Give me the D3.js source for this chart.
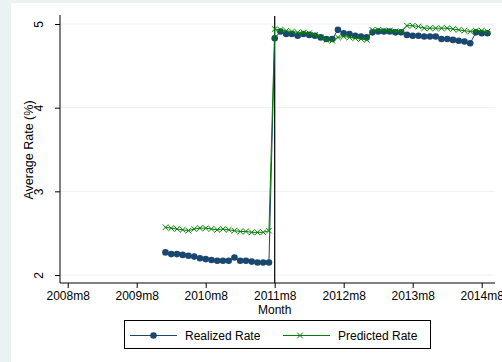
<!DOCTYPE html>
<html lang="en">
<head>
<meta charset="UTF-8">
<title>Average Rate</title>
<script src="https://cdnjs.cloudflare.com/ajax/libs/d3/7.8.5/d3.min.js"></script>
<style>
  body { margin: 0; }
  svg { display: block; font-family: "Liberation Sans", Arial, sans-serif; }
</style>
</head>
<body>
<div id="chart"></div>
<script>
// months, 2010m1 .. 2014m9
const months = [
  "2010m1","2010m2","2010m3","2010m4","2010m5","2010m6","2010m7","2010m8","2010m9","2010m10","2010m11","2010m12",
  "2011m1","2011m2","2011m3","2011m4","2011m5","2011m6","2011m7","2011m8","2011m9","2011m10","2011m11","2011m12",
  "2012m1","2012m2","2012m3","2012m4","2012m5","2012m6","2012m7","2012m8","2012m9","2012m10","2012m11","2012m12",
  "2013m1","2013m2","2013m3","2013m4","2013m5","2013m6","2013m7","2013m8","2013m9","2013m10","2013m11","2013m12",
  "2014m1","2014m2","2014m3","2014m4","2014m5","2014m6","2014m7","2014m8","2014m9"
];

const realized = [
  2.27, 2.25, 2.25, 2.24, 2.23, 2.22, 2.20, 2.19, 2.18, 2.17, 2.17, 2.17,
  2.21, 2.17, 2.17, 2.16, 2.15, 2.15, 2.15, 4.83, 4.91, 4.88, 4.88, 4.86,
  4.88, 4.87, 4.86, 4.84, 4.82, 4.82, 4.93, 4.89, 4.88, 4.86, 4.85, 4.84,
  4.90, 4.91, 4.91, 4.91, 4.90, 4.90, 4.87, 4.86, 4.86, 4.85, 4.85, 4.85,
  4.82, 4.82, 4.81, 4.80, 4.79, 4.77, 4.90, 4.89, 4.89
];

const predicted = [
  2.57, 2.56, 2.55, 2.54, 2.53, 2.55, 2.56, 2.56, 2.55, 2.54, 2.55, 2.54,
  2.53, 2.52, 2.52, 2.51, 2.51, 2.51, 2.53, 4.94, 4.93, 4.92, 4.91, 4.90,
  4.90, 4.89, 4.87, 4.84, 4.81, 4.80, 4.84, 4.85, 4.84, 4.83, 4.82, 4.81,
  4.93, 4.93, 4.92, 4.92, 4.91, 4.91, 4.98, 4.98, 4.97, 4.95, 4.95, 4.95,
  4.95, 4.95, 4.94, 4.93, 4.92, 4.91, 4.92, 4.92, 4.91
];

const xTickLabels = ["2008m8","2009m8","2010m8","2011m8","2012m8","2013m8","2014m8"];
const yTicks = [2, 3, 4, 5];
const breakMonth = "2011m8";

// month string -> months since 2008m8
function monthIndex(s) {
  const p = s.split("m");
  return (+p[0] - 2008) * 12 + (+p[1] - 8);
}

const navy = "#1a476f";
const green = "#008000";

const svg = d3.select("#chart").append("svg")
  .attr("width", 502)
  .attr("height", 362);

// graph region
svg.append("rect").attr("width", 502).attr("height", 362).attr("fill", "#eaf2f3");
svg.append("rect").attr("x", 11).attr("y", 3).attr("width", 491).attr("height", 359).attr("fill", "#fff");

const x = d3.scaleLinear().domain([0, 72]).range([67.7, 481.7]);
const y = d3.scaleLinear().domain([2, 5]).range([275, 24]);

const axisY = 283, axisX = 60;

// gridlines
svg.append("g").selectAll("line")
  .data(yTicks)
  .join("line")
  .attr("x1", axisX).attr("x2", 495)
  .attr("y1", d => y(d)).attr("y2", d => y(d))
  .attr("stroke", "#eaf2f3")
  .attr("stroke-width", 1);

// x axis
const gx = svg.append("g")
  .attr("transform", `translate(0,${axisY})`)
  .call(d3.axisBottom(x)
    .tickValues(xTickLabels.map(monthIndex))
    .tickFormat((d, i) => xTickLabels[i])
    .tickSize(5)
    .tickSizeOuter(0));
gx.attr("font-family", null).attr("font-size", 12);
gx.select(".domain").remove();
gx.selectAll("text").attr("fill", "#000");
gx.append("line").attr("x1", axisX).attr("x2", 495).attr("stroke", "#000");

// y axis
const gy = svg.append("g")
  .attr("transform", `translate(${axisX},0)`)
  .call(d3.axisLeft(y).tickValues(yTicks).tickSize(5).tickSizeOuter(0));
gy.attr("font-family", null).attr("font-size", 12);
gy.select(".domain").remove();
gy.selectAll("text").remove();
gy.selectAll(".tick").append("text")
  .attr("transform", "translate(-17,0) rotate(-90)")
  .attr("text-anchor", "middle")
  .attr("fill", "#000")
  .text(d => d);
gy.append("line").attr("y1", 15).attr("y2", axisY).attr("stroke", "#000");

// axis titles
svg.append("text")
  .attr("x", x(monthIndex("2011m8")))
  .attr("y", 314)
  .attr("text-anchor", "middle")
  .attr("font-size", 12)
  .text("Month");

svg.append("text")
  .attr("transform", "translate(33,150) rotate(-90)")
  .attr("text-anchor", "middle")
  .attr("font-size", 12.5)
  .text("Average Rate (%)");

// break line
svg.append("line")
  .attr("x1", x(monthIndex(breakMonth))).attr("x2", x(monthIndex(breakMonth)))
  .attr("y1", 16).attr("y2", axisY)
  .attr("stroke", "#000")
  .attr("stroke-width", 1.2);

const realData = months.map((m, i) => ({ t: monthIndex(m), v: realized[i] }));
const predData = months.map((m, i) => ({ t: monthIndex(m), v: predicted[i] }));

const line = d3.line().x(d => x(d.t)).y(d => y(d.v));

// realized rate
svg.append("path")
  .datum(realData)
  .attr("d", line)
  .attr("fill", "none")
  .attr("stroke", navy)
  .attr("stroke-width", 1);
svg.append("g").selectAll("circle")
  .data(realData)
  .join("circle")
  .attr("cx", d => x(d.t))
  .attr("cy", d => y(d.v))
  .attr("r", 3.3)
  .attr("fill", navy);

// predicted rate
svg.append("path")
  .datum(predData)
  .attr("d", line)
  .attr("fill", "none")
  .attr("stroke", green)
  .attr("stroke-width", 1);
const cross = "M-2.8,-2.8L2.8,2.8M-2.8,2.8L2.8,-2.8";
svg.append("g").selectAll("path")
  .data(predData)
  .join("path")
  .attr("transform", d => `translate(${x(d.t)},${y(d.v)})`)
  .attr("d", cross)
  .attr("fill", "none")
  .attr("stroke", green)
  .attr("stroke-width", 1);

// legend
const lg = svg.append("g");
lg.append("rect")
  .attr("x", 124.5).attr("y", 320.5)
  .attr("width", 306).attr("height", 28)
  .attr("fill", "#fff")
  .attr("stroke", "#000");
lg.append("line").attr("x1", 130).attr("x2", 177).attr("y1", 335.5).attr("y2", 335.5)
  .attr("stroke", navy);
lg.append("circle").attr("cx", 153.5).attr("cy", 335.5).attr("r", 3.3).attr("fill", navy);
lg.append("text").attr("x", 185).attr("y", 340).attr("font-size", 12).text("Realized Rate");
lg.append("line").attr("x1", 283).attr("x2", 330).attr("y1", 335.5).attr("y2", 335.5)
  .attr("stroke", green);
lg.append("path").attr("transform", "translate(300,335.5)").attr("d", cross)
  .attr("fill", "none").attr("stroke", green);
lg.append("text").attr("x", 338).attr("y", 340).attr("font-size", 12).text("Predicted Rate");
</script>
</body>
</html>
